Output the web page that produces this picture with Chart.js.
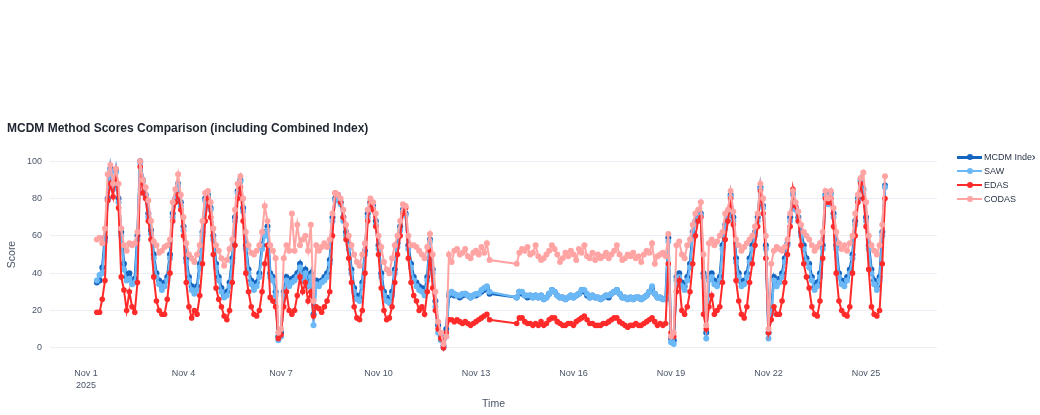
<!DOCTYPE html>
<html>
<head>
<meta charset="utf-8">
<script src="https://cdn.jsdelivr.net/npm/chart.js@4/dist/chart.umd.min.js"></script>
<style>
  html, body { margin: 0; padding: 0; background: #fff; }
  #wrap { position: relative; width: 1040px; height: 415px; overflow: hidden; }
  #c { position: absolute; left: 0; top: 0; }
  #legend { position: absolute; left: 955px; top: 150px; width: 80px; overflow: hidden;
            font-family: "Liberation Sans", Arial, Helvetica, sans-serif; font-size: 9px; color: #2a3448; }
  .row { position: relative; height: 14px; white-space: nowrap; }
  .ln { position: absolute; left: 2px; width: 25px; }
  .dt { position: absolute; border-radius: 50%; }
  .tx { position: absolute; left: 29px; top: 1px; line-height: 12px; }
</style>
</head>
<body>
<div id="wrap">
  <canvas id="c" width="1040" height="415"></canvas>
  <div id="legend"></div>
</div>
<script>
// ---- data (2-hourly readings, hours counted from Nov 1 2025 00:00; first reading 08:00) ----
const seriesNames = ['MCDM Index', 'SAW', 'EDAS', 'CODAS'];
const firstHour = 8;
const stepHours = 2;

const mcdmIndex = [
  35,36,43,59,80,96,86,95,
  80,62,45,38,40,36,37,60,100,90,82,72,
  63,50,40,36,33,35,38,50,72,80,88,78,
  65,48,38,33,30,33,45,62,80,82,75,60,
  45,38,32,28,30,35,48,70,84,90,75,55,
  42,36,33,35,40,55,62,65,40,38,30,6,
  8,30,38,35,37,38,40,45,38,42,35,40,
  18,36,35,36,38,40,47,70,80,82,78,70,
  62,55,42,32,28,27,35,52,72,78,76,68,
  55,40,30,27,26,30,42,56,65,74,72,55,
  45,38,35,33,32,30,38,58,42,25,12,6,
  1,10,28,29,28,28,27,28,29,28,27,28,
  28,29,30,31,32,29,null,null,null,null,null,null,
  null,null,null,27,30,29,28,27,28,27,28,27,
  28,26,27,29,31,30,28,27,27,26,27,28,
  27,28,29,31,30,28,27,28,27,27,26,27,
  28,27,29,30,31,29,27,27,26,27,26,27,
  27,26,27,28,30,32,29,27,27,26,26,59,
  5,4,38,40,35,33,38,45,62,68,70,72,
  40,8,38,40,36,34,38,55,66,72,82,70,
  48,40,35,36,40,48,55,62,70,86,76,55,
  8,20,38,35,37,40,48,56,70,83,75,70,
  62,55,48,45,38,33,35,40,55,82,78,83,
  72,55,40,36,35,38,42,50,68,80,90,85,
  70,55,42,36,33,38,62,87
];
const saw = [
  36,39,40,57,79,95,85,94,
  78,60,42,36,37,34,35,58,99,89,81,70,
  61,48,38,34,31,33,36,48,70,79,87,76,
  63,46,36,31,29,31,43,60,79,81,74,58,
  43,36,30,27,28,33,46,68,83,89,73,53,
  40,34,31,33,38,53,60,63,38,36,28,4,
  6,28,36,33,35,36,38,43,36,40,33,38,
  12,34,33,35,36,38,45,68,79,81,77,68,
  60,53,40,30,26,25,33,50,70,77,75,66,
  53,38,28,25,24,28,40,54,63,73,71,53,
  43,36,33,31,30,28,36,57,40,22,8,4,
  0,6,29,30,29,28,28,29,29,28,27,28,
  29,29,31,32,33,30,null,null,null,null,null,null,
  null,null,null,27,30,30,28,28,28,27,28,27,
  28,26,27,29,31,30,28,27,27,26,27,28,
  27,28,29,31,31,29,27,28,27,27,26,27,
  28,28,29,30,31,29,27,27,26,27,26,27,
  27,26,27,28,30,33,29,27,27,26,26,57,
  3,2,36,38,33,31,36,43,60,67,69,71,
  38,5,36,38,34,33,36,53,64,71,81,68,
  46,38,33,34,38,46,53,60,68,85,75,53,
  5,18,36,33,35,38,46,55,68,82,74,68,
  60,53,46,43,36,31,33,38,53,81,77,82,
  70,53,38,34,33,36,40,48,66,79,89,84,
  68,53,40,34,31,36,60,86
];
const edas = [
  19,19,26,36,79,88,81,96,
  75,38,31,20,30,22,19,35,97,83,80,68,
  58,38,25,20,18,18,26,40,68,78,82,74,
  60,35,22,16,20,18,28,45,68,80,70,50,
  32,26,22,17,15,20,35,55,80,86,68,40,
  30,22,18,17,20,30,45,55,27,25,22,5,
  7,22,30,20,18,20,28,38,30,35,25,30,
  17,22,21,19,22,25,30,60,83,82,78,70,
  58,48,35,22,16,15,20,40,68,78,74,65,
  50,32,20,15,16,22,35,50,60,72,75,48,
  35,28,25,20,22,18,30,52,32,20,10,5,
  0,8,15,15,14,15,14,13,14,13,12,13,
  14,15,16,17,18,15,null,null,null,null,null,null,
  null,null,null,13,16,16,14,13,13,12,13,12,
  14,12,13,15,16,16,14,13,12,12,13,13,
  12,14,15,16,17,15,13,13,12,12,12,13,
  13,14,15,16,16,14,13,12,11,12,12,13,
  12,12,13,14,15,16,14,12,13,12,13,45,
  8,6,30,36,20,18,22,30,45,60,68,70,
  18,10,22,28,18,20,22,35,58,68,80,66,
  36,25,18,16,22,35,45,55,65,84,72,48,
  8,15,22,18,18,25,35,50,65,85,76,68,
  55,45,38,32,22,18,17,25,48,80,78,80,
  65,40,25,20,18,17,22,40,60,78,88,80,
  65,42,22,18,17,20,45,80
];
const codas = [
  58,59,56,64,93,98,88,96,
  88,64,55,52,56,55,56,62,100,90,86,79,
  68,57,55,51,52,54,55,58,78,85,93,82,
  70,56,50,48,46,50,55,68,83,84,78,64,
  55,52,48,44,47,53,58,74,88,92,80,62,
  55,51,50,52,55,62,76,68,55,52,48,8,
  10,48,55,52,72,52,66,55,58,60,52,66,
  25,55,52,54,56,54,58,72,83,82,80,74,
  66,60,55,50,46,44,50,56,74,80,78,72,
  60,54,46,42,40,48,55,60,68,77,76,60,
  55,55,54,52,50,48,54,61,50,30,14,8,
  2,6,50,46,52,53,50,51,53,49,48,51,
  52,50,54,51,56,47,null,null,null,null,null,null,
  null,null,null,45,51,53,52,54,50,51,55,49,
  47,48,50,52,55,53,50,46,48,51,49,52,
  50,47,53,51,55,49,48,51,47,50,48,49,
  51,48,50,52,55,50,47,48,50,49,51,48,
  49,46,50,52,51,56,45,49,50,51,49,61,
  6,8,55,57,50,48,55,58,66,72,74,78,
  50,12,56,58,55,57,60,62,72,74,84,73,
  58,55,52,54,56,58,60,65,72,88,80,60,
  10,45,52,54,53,52,54,58,72,84,78,73,
  66,62,60,58,55,52,54,56,62,84,80,84,
  75,62,56,53,55,52,56,60,72,82,91,94,
  78,60,55,52,50,55,66,92
];

const xTickHours = [0, 72, 144, 216, 288, 360, 432, 504, 576];
const xTickLabels = [['Nov 1', '2025'], 'Nov 4', 'Nov 7', 'Nov 10', 'Nov 13', 'Nov 16', 'Nov 19', 'Nov 22', 'Nov 25'];
const yTicks = [0, 20, 40, 60, 80, 100];

// ---- styling ----
const colors = ['#1565c0', '#6bb8f6', '#ff2a2a', '#ffa3a3'];
const widths = [2.6, 2.2, 2, 2];
const radii = [3, 3, 2.8, 3];
const legendWidths = [3, 2, 2, 2];
const FONT = '"Liberation Sans", Arial, Helvetica, sans-serif';
const TXT = '#4a5568';

const hours = mcdmIndex.map((_, i) => firstHour + stepHours * i);
const allSeries = [mcdmIndex, saw, edas, codas];

const datasets = allSeries.map((vals, k) => ({
  label: seriesNames[k],
  data: vals.map((v, i) => ({ x: hours[i], y: v })),
  borderColor: colors[k],
  backgroundColor: colors[k],
  borderWidth: widths[k],
  pointRadius: radii[k],
  pointBorderWidth: 0,
  pointHoverRadius: radii[k],
  spanGaps: true,
  tension: 0,
  order: 4 - k
}));

new Chart(document.getElementById('c'), {
  type: 'line',
  data: { datasets },
  options: {
    responsive: false,
    animation: false,
    events: [],
    layout: { padding: { top: 110, left: 7, right: 103, bottom: 0 } },
    plugins: {
      legend: { display: false },
      tooltip: { enabled: false },
      title: {
        display: true,
        text: 'MCDM Method Scores Comparison (including Combined Index)',
        align: 'start',
        color: '#1f2530',
        font: { family: FONT, size: 12, weight: 'bold', lineHeight: 1.2 },
        padding: { top: 11, bottom: 15.6 }
      }
    },
    scales: {
      x: {
        type: 'linear',
        min: -26.6,
        max: 628.4,
        afterBuildTicks: (s) => { s.ticks = xTickHours.map(v => ({ value: v })); },
        afterFit: (s) => { s.height = 57; },
        ticks: {
          autoSkip: false, maxRotation: 0, minRotation: 0, padding: 10,
          color: TXT, font: { family: FONT, size: 9, lineHeight: 1.3 },
          callback: (v) => { const i = xTickHours.indexOf(v); return i >= 0 ? xTickLabels[i] : ''; }
        },
        grid: { display: false, drawTicks: false },
        border: { display: false },
        title: { display: true, text: 'Time', color: TXT, font: { family: FONT, size: 10.5, lineHeight: 1.2 }, padding: { top: 0, bottom: 4.7 } }
      },
      y: {
        min: -5.5,
        max: 105.5,
        afterBuildTicks: (s) => { s.ticks = yTicks.map(v => ({ value: v })); },
        afterFit: (s) => { s.width = 43; },
        ticks: { padding: 8, color: TXT, font: { family: FONT, size: 9 } },
        grid: { color: '#ebeff5', lineWidth: 1, drawTicks: false },
        border: { display: false },
        title: { display: true, text: 'Score', color: TXT, font: { family: FONT, size: 10.5, lineHeight: 1.0 }, padding: { top: 0, bottom: 0 } }
      }
    }
  }
});

// ---- legend ----
const lg = document.getElementById('legend');
seriesNames.forEach((name, k) => {
  const row = document.createElement('div');
  row.className = 'row';
  const ln = document.createElement('div');
  ln.className = 'ln';
  ln.style.height = legendWidths[k] + 'px';
  ln.style.top = (7 - legendWidths[k] / 2) + 'px';
  ln.style.background = colors[k];
  const dt = document.createElement('div');
  dt.className = 'dt';
  dt.style.width = '6px'; dt.style.height = '6px';
  dt.style.left = '11.5px'; dt.style.top = '4px';
  dt.style.background = colors[k];
  const tx = document.createElement('div');
  tx.className = 'tx';
  tx.textContent = name;
  row.appendChild(ln); row.appendChild(dt); row.appendChild(tx);
  lg.appendChild(row);
});
</script>
</body>
</html>
